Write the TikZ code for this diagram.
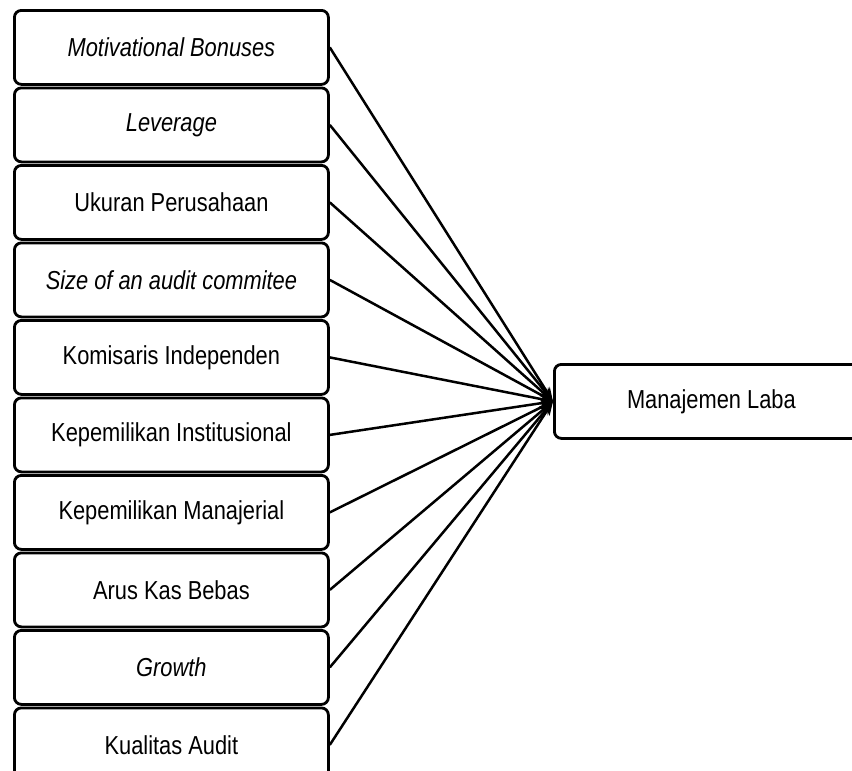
\documentclass[tikz,border=0pt]{standalone}
\usepackage{fontspec}
\setmainfont{Liberation Sans}[FakeStretch=0.84]
\usetikzlibrary{arrows.meta}
\begin{document}
\begin{tikzpicture}[x=1pt,y=-1pt,
  varbox/.style={draw=black,line width=2.8pt,rounded corners=7pt,fill=white,
    minimum width=314pt,minimum height=74pt,inner sep=0pt,anchor=north west,
    font=\fontsize{26}{30}\selectfont},
  conn/.style={line width=2.5pt,-{Stealth[length=14pt,width=10pt]}}]
\useasboundingbox (0,0) rectangle (852,771);
\clip (0,0) rectangle (852,771);
\node[varbox] (v1) at (13,9) {\itshape Motivational Bonuses};
\node[varbox] (v2) at (13,86.5) {\itshape Leverage};
\node[varbox] (v3) at (13,164) {Ukuran Perusahaan};
\node[varbox] (v4) at (13,241.5) {\itshape Size of an audit commitee};
\node[varbox] (v5) at (13,319) {Komisaris Independen};
\node[varbox] (v6) at (13,396.5) {Kepemilikan Institusional};
\node[varbox] (v7) at (13,474) {Kepemilikan Manajerial};
\node[varbox] (v8) at (13,551.5) {Arus Kas Bebas};
\node[varbox] (v9) at (13,629) {\itshape Growth};
\node[varbox] (v10) at (13,706.5) {Kualitas Audit};
\node[varbox] (ml) at (553,363) {Manajemen Laba};
\foreach \i in {1,...,10}{
  \draw[conn] (v\i.east) -- (ml.west);
}
\end{tikzpicture}
\end{document}
